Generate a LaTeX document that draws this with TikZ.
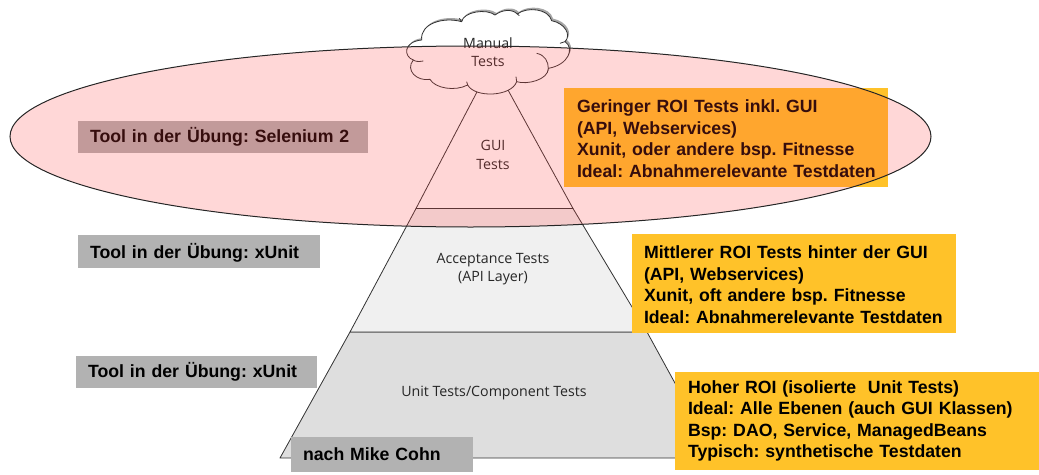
\documentclass[tikz,border=0pt]{standalone}
\usepackage{fontspec}
\setmainfont{Liberation Sans}
\newfontfamily\scanfont{Open Sans}
\frenchspacing
\definecolor{boxyellow}{RGB}{255,194,41}
\definecolor{boxgrey}{RGB}{178,178,178}
\definecolor{tierlight}{RGB}{240,240,240}
\definecolor{tierdark}{RGB}{222,222,222}
\definecolor{edgegrey}{RGB}{50,50,50}
\definecolor{pinkfill}{RGB}{255,65,65}
\newcommand{\dnstrut}{\rule{0pt}{15.5pt}}
\tikzset{
  yellowbox/.style={fill=boxyellow,anchor=north west,inner sep=0pt,outer sep=0pt,font=\fontsize{17.7}{21.5}\selectfont\bfseries\frenchspacing,align=left,text=black},
  greybox/.style={fill=boxgrey,anchor=north west,inner sep=0pt,outer sep=0pt,font=\fontsize{17.7}{20}\selectfont\bfseries\frenchspacing,align=left,text=black},
  tierlabel/.style={font=\fontsize{14.2}{18.5}\selectfont\scanfont,text=black!85,align=center,inner sep=0pt},
  tieredge/.style={draw=edgegrey,line width=.8pt,line join=round},
  cloudedge/.style={draw=edgegrey,line width=.8pt},
}
\newcommand{\cloudpath}{(125,120) .. controls (120,70) and (190,50) .. (245,65)
  .. controls (250,35) and (320,25) .. (345,45)
  .. controls (365,30) and (395,25) .. (412,42)
  .. controls (440,20) and (505,25) .. (515,62)
  .. controls (555,70) and (575,105) .. (555,125)
  .. controls (585,145) and (565,195) .. (505,205)
  .. controls (505,240) and (440,255) .. (410,245)
  .. controls (395,290) and (285,295) .. (263,255)
  .. controls (225,275) and (165,265) .. (150,238)
  .. controls (110,245) and (75,210) .. (100,180)
  .. controls (70,170) and (70,125) .. (125,120) -- cycle}
\begin{document}
\begin{tikzpicture}[x=1pt,y=-1pt]
\useasboundingbox (0,0) rectangle (1039,474);
% pyramid tiers
\path[tieredge,fill=tierdark] (350,332) -- (647,332) -- (716,458) -- (280,458) -- cycle;
\path[tieredge,fill=tierlight] (416,208.5) -- (573,208.5) -- (647,332) -- (350,332) -- cycle;
\path[tieredge,fill=white] (478,90) -- (508,90) -- (573,208.5) -- (416,208.5) -- cycle;
% cloud
\begin{scope}[shift={(381.5pt,2pt)},x=.3333pt,y=-.3333pt]
\fill[black!35] \cloudpath;
\end{scope}
\begin{scope}[shift={(380pt,0pt)},x=.3333pt,y=-.3333pt]
\path[cloudedge,fill=white] \cloudpath;
\draw[cloudedge] (130,183) .. controls (115,186) and (105,184) .. (100,180);
\draw[cloudedge] (470,160) .. controls (495,165) and (505,185) .. (505,205);
\draw[cloudedge] (540,130) .. controls (545,128) and (550,127) .. (555,125);
\draw[cloudedge] (410,245) -- (408,230);
\draw[cloudedge] (263,255) -- (260,245);
\draw[cloudedge] (245,65) -- (238,55);
\draw[cloudedge] (412,42) -- (418,47);
\end{scope}
% labels in the pyramid
\node[tierlabel] (manual) at (488,52) {Manual\\Tests};
\node[tierlabel] (gui) at (493,155) {GUI\\Tests};
\node[tierlabel] (accept) at (493,269) {Acceptance Tests\\(API Layer)};
\node[tierlabel] (unit) at (494,392.5) {Unit Tests/Component Tests};
% yellow boxes
\node[yellowbox,minimum width=324pt,minimum height=98.5pt,text width=298pt] (roiA) at (564,88)
  {\dnstrut Geringer ROI Tests inkl. GUI\\(API, Webservices)\\Xunit, oder andere bsp. Fitnesse\\\mbox{Ideal: Abnahmerelevante Testdaten}};
\node[yellowbox,minimum width=324pt,minimum height=98.5pt,text width=300pt] (roiB) at (632,234)
  {\dnstrut Mittlerer ROI Tests hinter der GUI\\(API, Webservices)\\Xunit, oft andere bsp. Fitnesse\\\mbox{Ideal: Abnahmerelevante Testdaten}};
\node[yellowbox,minimum width=364pt,minimum height=98pt,text width=338pt] (roiC) at (675,372)
  {Hoher ROI (isolierte\ \ Unit Tests)\\Ideal: Alle Ebenen (auch GUI Klassen)\\Bsp: DAO, Service, ManagedBeans\\Typisch: synthetische Testdaten};
% grey boxes
\node[greybox,minimum width=290pt,minimum height=32pt,text width=266pt] (toolA) at (78,121) {\dnstrut Tool in der Übung: Selenium 2};
\node[greybox,minimum width=242pt,minimum height=33pt,text width=218pt] (toolB) at (78,235) {\rule{0pt}{17pt}Tool in der Übung: xUnit};
\node[greybox,minimum width=241pt,minimum height=32pt,text width=217pt] (toolC) at (76,356) {\dnstrut Tool in der Übung: xUnit};
\node[greybox,minimum width=182pt,minimum height=35pt,text width=158pt] (cohn) at (291,437) {nach Mike Cohn};
% translucent ellipse over everything
\path[draw=black!85,line width=1pt,fill=pinkfill,fill opacity=.21] (470.5,136.5) ellipse [x radius=460.5,y radius=90.5];
\end{tikzpicture}
\end{document}
